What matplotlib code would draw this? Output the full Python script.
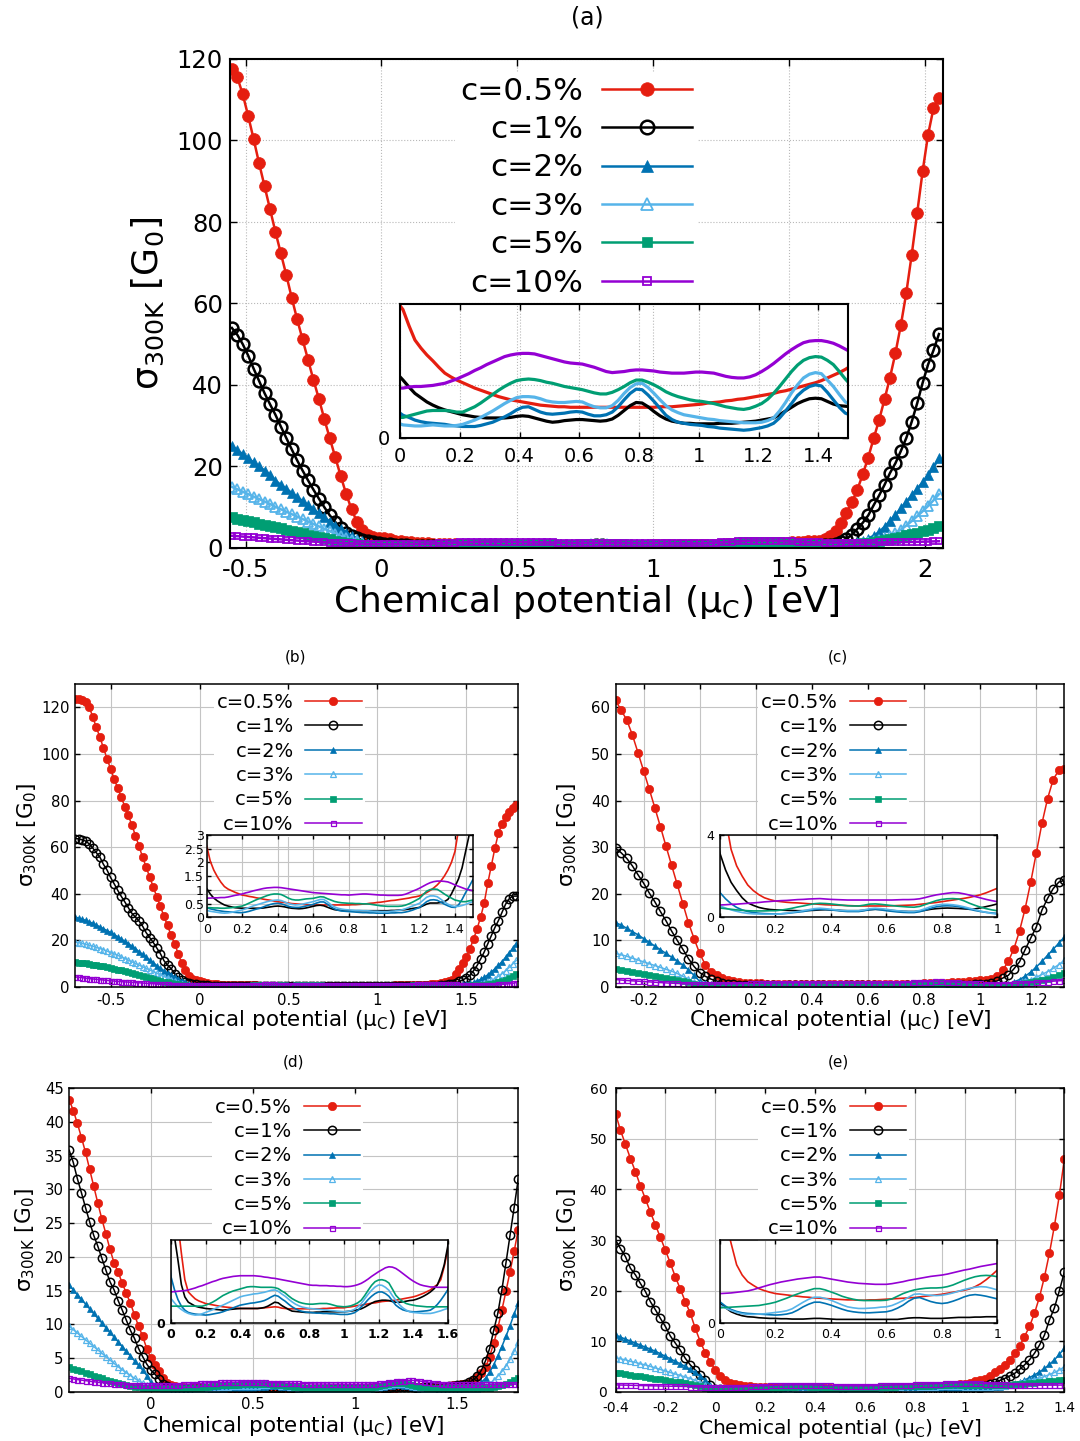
import numpy as np
import matplotlib
matplotlib.use("Agg")
import matplotlib.pyplot as plt
from matplotlib.ticker import FuncFormatter

plt.rcParams["font.family"] = ["DejaVu Sans"]
plt.rcParams["mathtext.fontset"] = "dejavusans"

labels = ["c=0.5%", "c=1%", "c=2%", "c=3%", "c=5%", "c=10%"]
colors = ["#e51e10", "#000000", "#0072b2", "#56b4e9", "#009e73", "#9400d3"]
markers = ["o", "o", "^", "^", "s", "s"]
hollow = [False, True, False, True, False, True]

# ---------------- panel (a) ----------------
a_mu = np.linspace(-0.55, 2.05, 131)
a_c05 = [117.5, 115.5, 111.3, 106, 100.3, 94.4, 88.8, 83.2, 77.6, 72.3, 67, 61.4, 56.1, 51.2, 46.2, 41.2, 36.6, 31.6,
         26.9, 22.3, 17.7, 13.3, 9.5, 6.4, 4.5, 3.2, 2.7, 2.55,
         2.4, 2.1, 1.83, 1.68, 1.55, 1.44, 1.32, 1.21, 1.14, 1.08, 1.03, 0.98, 0.93, 0.89, 0.85, 0.81, 0.77, 0.74,
         0.71, 0.69, 0.67, 0.65, 0.63, 0.61, 0.6, 0.59, 0.58, 0.58, 0.57, 0.57, 0.57, 0.57, 0.57, 0.57, 0.57, 0.57,
         0.57, 0.57, 0.57, 0.57, 0.57, 0.57, 0.57, 0.58, 0.58, 0.58, 0.59, 0.6, 0.61, 0.62, 0.63, 0.65, 0.66, 0.67,
         0.69, 0.7, 0.72, 0.73, 0.75, 0.77, 0.79, 0.81, 0.83, 0.86, 0.88, 0.91, 0.94, 0.97, 1.0, 1.03, 1.07, 1.12,
         1.17, 1.22, 1.28,
         1.35, 1.43, 1.52, 1.6, 1.7, 1.8, 2.2, 3.0, 4.2, 6.1, 8.6, 11.2, 14.3, 18.1, 22.2, 26.9, 31.4, 36.5, 41.8,
         47.8, 54.7, 62.6, 72, 82.2, 92.4, 101.4, 107.9, 110.4]
a_c1 = [54, 52.3, 50, 47.2, 44, 41, 38, 35.3, 32.7, 29.8, 27, 24.2, 21.5, 19, 16.6, 14.3, 12.1, 10, 8, 6.4, 4.8, 3.7,
        2.9, 2.4, 2.0, 1.65, 1.4, 1.2,
        1.08, 0.95, 0.83, 0.75, 0.67, 0.61, 0.56, 0.52, 0.49, 0.46, 0.43, 0.41, 0.39, 0.38, 0.37, 0.37, 0.37, 0.37,
        0.38, 0.4, 0.41, 0.4, 0.37, 0.34, 0.31, 0.29, 0.3, 0.32, 0.33, 0.34, 0.34, 0.33, 0.32, 0.31, 0.32, 0.35,
        0.42, 0.51, 0.6, 0.66, 0.65, 0.58, 0.49, 0.41, 0.35, 0.31, 0.29, 0.27, 0.27, 0.26, 0.26, 0.26, 0.26, 0.27,
        0.27, 0.27, 0.28, 0.29, 0.3, 0.31, 0.33, 0.35, 0.37, 0.43, 0.5, 0.57, 0.64, 0.69, 0.73, 0.74, 0.73, 0.68,
        0.63, 0.6, 0.59,
        0.58, 0.58, 0.57, 0.58, 0.6, 0.65, 0.72, 0.85, 1.1, 1.5, 2.2, 3.3, 4.7, 6.2, 8.0, 10.5, 12.9, 15.5, 18.4,
        20.8, 23.8, 27, 31, 35.5, 40.5, 45, 48.5, 52.5]
a_c2 = [25, 24, 23, 22, 21, 20, 19, 18, 16.5, 15.5, 14.5, 13.5, 12.5, 11.5, 10.5, 9.5, 8.5, 7.5, 6.5, 5.5, 4.6, 3.8,
        3.0, 2.3, 1.6, 1.05, 0.7, 0.5,
        0.42, 0.38, 0.33, 0.3, 0.28, 0.27, 0.26, 0.25, 0.23, 0.22, 0.21, 0.21, 0.21, 0.23, 0.26, 0.29, 0.34, 0.39,
        0.45, 0.52, 0.57, 0.58, 0.53, 0.48, 0.45, 0.44, 0.45, 0.46, 0.48, 0.49, 0.48, 0.44, 0.41, 0.41, 0.43, 0.48,
        0.58, 0.71, 0.83, 0.91, 0.9, 0.8, 0.68, 0.55, 0.42, 0.34, 0.29, 0.27, 0.25, 0.24, 0.23, 0.21, 0.2, 0.18,
        0.17, 0.16, 0.15, 0.14, 0.15, 0.17, 0.19, 0.22, 0.27, 0.37, 0.5, 0.64, 0.79, 0.89, 0.96, 0.99, 0.97, 0.85,
        0.71, 0.57, 0.46,
        0.42, 0.4, 0.4, 0.41, 0.43, 0.46, 0.5, 0.55, 0.62, 0.72, 0.85, 1.05, 1.35, 1.8, 2.3, 3.0, 3.9, 5.2, 6.6,
        8.1, 9.7, 11.3, 12.9, 14.5, 16.1, 17.8, 19.8, 22]
a_c3 = [15, 14.4, 13.8, 13.2, 12.6, 12, 11.4, 10.8, 10.1, 9.5, 8.9, 8.3, 7.7, 7.1, 6.5, 5.9, 5.3, 4.7, 4.1, 3.5, 3.0,
        2.5, 2.0, 1.6, 1.2, 0.8, 0.45, 0.28,
        0.24, 0.23, 0.22, 0.22, 0.23, 0.24, 0.23, 0.22, 0.22, 0.23, 0.25, 0.29, 0.33, 0.38, 0.44, 0.5, 0.57, 0.64,
        0.7, 0.75, 0.77, 0.77, 0.76, 0.73, 0.69, 0.67, 0.66, 0.66, 0.67, 0.68, 0.67, 0.62, 0.58, 0.56, 0.56, 0.6,
        0.7, 0.83, 0.94, 1.01, 1.02, 0.94, 0.83, 0.71, 0.6, 0.52, 0.47, 0.43, 0.41, 0.39, 0.37, 0.35, 0.34, 0.32,
        0.31, 0.3, 0.29, 0.28, 0.28, 0.28, 0.29, 0.32, 0.37, 0.5, 0.66, 0.84, 0.99, 1.12, 1.19, 1.22, 1.2, 1.08,
        0.96, 0.81, 0.67,
        0.62, 0.58, 0.56, 0.55, 0.55, 0.56, 0.58, 0.6, 0.63, 0.67, 0.73, 0.82, 0.95, 1.12, 1.35, 1.65, 2.0, 2.45,
        3.0, 3.7, 4.5, 5.5, 6.6, 7.8, 9.0, 10.3, 11.7, 13.2]
a_c5 = [7.5, 7.2, 6.9, 6.6, 6.3, 6.0, 5.7, 5.4, 5.1, 4.8, 4.5, 4.2, 3.9, 3.6, 3.3, 3.0, 2.7, 2.4, 2.1, 1.8, 1.55, 1.3,
        1.1, 0.9, 0.72, 0.55, 0.44, 0.38,
        0.38, 0.41, 0.44, 0.47, 0.5, 0.51, 0.51, 0.51, 0.5, 0.48, 0.48, 0.53, 0.58, 0.65, 0.73, 0.81, 0.89, 0.96,
        1.02, 1.07, 1.09, 1.1, 1.09, 1.07, 1.04, 1.02, 0.99, 0.96, 0.94, 0.92, 0.9, 0.87, 0.84, 0.82, 0.82, 0.85,
        0.9, 0.96, 1.03, 1.08, 1.08, 1.04, 0.99, 0.93, 0.86, 0.81, 0.77, 0.74, 0.71, 0.69, 0.68, 0.66, 0.64, 0.61,
        0.58, 0.56, 0.54, 0.53, 0.55, 0.59, 0.64, 0.72, 0.83, 0.96, 1.1, 1.24, 1.36, 1.45, 1.5, 1.52, 1.51, 1.45,
        1.37, 1.24, 1.1,
        0.98, 0.88, 0.82, 0.78, 0.76, 0.75, 0.75, 0.76, 0.78, 0.82, 0.88, 0.96, 1.06, 1.18, 1.33, 1.5, 1.7, 1.93,
        2.2, 2.5, 2.8, 3.1, 3.45, 3.8, 4.15, 4.5, 4.9, 5.3]
a_c10 = [3.0, 2.9, 2.8, 2.7, 2.6, 2.5, 2.4, 2.3, 2.2, 2.1, 2.0, 1.9, 1.8, 1.72, 1.64, 1.56, 1.48, 1.4, 1.34, 1.28,
         1.22, 1.16, 1.11, 1.06, 1.01, 0.97, 0.95, 0.93,
         0.93, 0.95, 0.96, 0.96, 0.97, 0.98, 1.0, 1.02, 1.06, 1.1, 1.15, 1.2, 1.26, 1.31, 1.37, 1.42, 1.47, 1.52,
         1.55, 1.57, 1.58, 1.58, 1.57, 1.54, 1.51, 1.48, 1.45, 1.42, 1.4, 1.39, 1.38, 1.35, 1.32, 1.28, 1.24, 1.22,
         1.23, 1.24, 1.26, 1.27, 1.27, 1.26, 1.25, 1.23, 1.22, 1.21, 1.21, 1.21, 1.22, 1.23, 1.23, 1.22, 1.21, 1.18,
         1.15, 1.13, 1.12, 1.12, 1.14, 1.18, 1.24, 1.31, 1.39, 1.48, 1.57, 1.65, 1.72, 1.78, 1.81, 1.82, 1.82, 1.8,
         1.77, 1.72, 1.66,
         1.6, 1.54, 1.48, 1.43, 1.39, 1.36, 1.33, 1.31, 1.3, 1.29, 1.29, 1.29, 1.3, 1.31, 1.32, 1.33, 1.35, 1.37,
         1.39, 1.41, 1.43, 1.45, 1.48, 1.51, 1.54, 1.58, 1.62, 1.66]

# ---------------- panel (b) ----------------
b_mu = np.linspace(-0.70, 1.78, 125)
b_c05 = [123.6, 123.6, 123.1, 122.1, 120.3, 115.7, 111.4, 107.1, 102.6, 97.9, 93.6, 89.3, 85.3, 81.4, 77.4, 73.6,
         69.3, 65, 60.3, 55.7, 51.4, 47.1, 42.9, 38.6, 34.6, 30.3, 26.4, 22.1, 18.6, 14.3, 10.3, 7.1, 4.6, 3.4, 2.9,
         2.6, 2.05, 1.72, 1.48, 1.28, 1.12, 1.03, 0.97, 0.91, 0.86, 0.81, 0.79, 0.76, 0.74, 0.71, 0.69, 0.66, 0.64,
         0.62, 0.59, 0.57, 0.55, 0.54, 0.52, 0.5, 0.49, 0.48, 0.47, 0.46, 0.45, 0.45, 0.45, 0.45, 0.45, 0.45, 0.45,
         0.45, 0.45, 0.45, 0.45, 0.45, 0.46, 0.46, 0.47, 0.48, 0.49, 0.51, 0.52, 0.54, 0.55, 0.57, 0.59, 0.61, 0.62,
         0.64, 0.66, 0.68, 0.7, 0.73, 0.75, 0.78, 0.84, 0.9, 0.98, 1.07, 1.18, 1.32, 1.5, 1.72, 2.0, 2.4, 3.2, 5.5,
         7.9, 10.3, 13.0,
         16.5, 20.5, 25, 30, 36, 44.5, 52, 59.5, 66, 70, 73, 75.2, 76.8, 78]
b_c1 = [63.6, 63.6, 63.2, 62.6, 61.4, 59.6, 57.6, 55.7, 52.6, 50.2, 47, 44.3, 41.5, 38.9, 36.5, 34, 31.6, 30, 28.3,
        26.1, 23.3, 21.2, 19.1, 16.7, 14.3, 11.3, 9.4, 7.9, 5.7, 4.2, 3.1, 2.2, 1.7, 1.4, 1.15,
        1.05, 0.85, 0.7, 0.6, 0.52, 0.45, 0.41, 0.38, 0.35, 0.34, 0.33, 0.33, 0.33, 0.33, 0.33, 0.33, 0.34, 0.36,
        0.38, 0.4, 0.41, 0.4, 0.38, 0.35, 0.33, 0.32, 0.31, 0.32, 0.34, 0.37, 0.4, 0.43, 0.44, 0.42, 0.37, 0.32,
        0.28, 0.26, 0.25, 0.24, 0.24, 0.24, 0.24, 0.24, 0.24, 0.24, 0.24, 0.24, 0.24, 0.24, 0.24, 0.24, 0.25, 0.25,
        0.26, 0.27, 0.28, 0.3, 0.32, 0.34, 0.36, 0.42, 0.48, 0.52, 0.52, 0.52, 0.54, 0.57, 0.65, 0.85, 1.12, 1.4,
        1.8, 2.4, 3.0, 3.9,
        5.0, 7.0, 9.2, 12, 15, 18.5, 22, 25.5, 28.5, 32, 35.5, 37.8, 39, 39]
b_c2 = [30, 29.6, 29.1, 28.6, 28, 27.3, 26.6, 25.8, 25, 24.2, 23.4, 22.5, 21.6, 20.6, 19.6, 18.6, 17.5, 16.4, 15.2,
        14.0, 12.8, 11.6, 10.4, 9.2, 8.0, 7.0, 6.1, 5.3, 4.4, 3.5, 2.7, 2.0, 1.4, 0.9, 0.6,
        0.35, 0.31, 0.28, 0.25, 0.23, 0.21, 0.2, 0.19, 0.18, 0.17, 0.17, 0.19, 0.22, 0.26, 0.3, 0.33, 0.38, 0.43,
        0.47, 0.5, 0.51, 0.49, 0.45, 0.4, 0.37, 0.36, 0.36, 0.38, 0.41, 0.44, 0.47, 0.52, 0.56, 0.56, 0.48, 0.38,
        0.31, 0.26, 0.23, 0.22, 0.21, 0.2, 0.19, 0.18, 0.17, 0.17, 0.16, 0.16, 0.15, 0.15, 0.15, 0.15, 0.16, 0.16,
        0.17, 0.17, 0.19, 0.22, 0.26, 0.31, 0.36, 0.46, 0.57, 0.63, 0.64, 0.62, 0.55, 0.48, 0.42, 0.37, 0.36, 0.45,
        0.65, 0.9, 1.12, 1.36,
        1.55, 2.0, 2.6, 3.3, 4.2, 5.2, 6.4, 7.8, 9.3, 10.9, 12.7, 14.6, 16.6, 18.6]
b_c3 = [19.3, 19.0, 18.7, 18.3, 17.9, 17.5, 17.0, 16.5, 16.0, 15.4, 14.8, 14.2, 13.6, 12.9, 12.2, 11.5, 10.8, 10.1,
        9.4, 8.7, 8.0, 7.3, 6.6, 5.9, 5.2, 4.5, 3.8, 3.1, 2.5, 1.9, 1.4, 1.0, 0.7, 0.45, 0.3,
        0.25, 0.22, 0.2, 0.18, 0.16, 0.15, 0.16, 0.18, 0.21, 0.24, 0.27, 0.31, 0.36, 0.41, 0.45, 0.49, 0.53, 0.57,
        0.6, 0.62, 0.63, 0.61, 0.56, 0.5, 0.47, 0.45, 0.46, 0.48, 0.51, 0.54, 0.57, 0.61, 0.65, 0.65, 0.57, 0.46,
        0.38, 0.33, 0.3, 0.28, 0.27, 0.26, 0.25, 0.25, 0.24, 0.24, 0.23, 0.22, 0.22, 0.21, 0.21, 0.21, 0.22, 0.23,
        0.25, 0.27, 0.31, 0.36, 0.41, 0.46, 0.51, 0.62, 0.73, 0.78, 0.78, 0.75, 0.66, 0.56, 0.48, 0.42, 0.39, 0.4,
        0.43, 0.47, 0.52, 0.57,
        0.62, 0.72, 0.9, 1.2, 1.6, 2.1, 2.8, 3.6, 4.6, 5.7, 7.0, 8.4, 9.9, 11.4]
b_c5 = [10.7, 10.5, 10.3, 10.1, 9.9, 9.6, 9.4, 9.1, 8.8, 8.5, 8.2, 7.9, 7.5, 7.1, 6.7, 6.3, 5.9, 5.5, 5.1, 4.7, 4.3,
        3.9, 3.5, 3.1, 2.7, 2.35, 2.0, 1.7, 1.4, 1.15, 0.9, 0.7, 0.55, 0.45, 0.38,
        0.35, 0.35, 0.34, 0.34, 0.33, 0.33, 0.34, 0.35, 0.37, 0.39, 0.41, 0.46, 0.52, 0.58, 0.64, 0.69, 0.74, 0.79,
        0.83, 0.85, 0.85, 0.83, 0.77, 0.7, 0.65, 0.63, 0.63, 0.65, 0.67, 0.68, 0.69, 0.72, 0.75, 0.74, 0.68, 0.63,
        0.58, 0.55, 0.53, 0.52, 0.51, 0.51, 0.5, 0.5, 0.49, 0.49, 0.48, 0.46, 0.44, 0.42, 0.41, 0.4, 0.4, 0.4, 0.4,
        0.41, 0.44, 0.49, 0.55, 0.62, 0.69, 0.82, 0.95, 1.01, 1.03, 1.02, 0.94, 0.85, 0.77, 0.7, 0.63, 0.6, 0.57,
        0.57, 0.6, 0.63,
        0.65, 0.68, 0.73, 0.82, 0.95, 1.12, 1.35, 1.65, 2.0, 2.5, 3.1, 3.8, 4.7, 5.7]
b_c10 = [4.3, 4.2, 4.0, 3.8, 3.6, 3.45, 3.3, 3.15, 3.0, 2.85, 2.7, 2.55, 2.4, 2.3, 2.2, 2.1, 2.0, 1.9, 1.8, 1.7, 1.6,
         1.5, 1.42, 1.34, 1.26, 1.18, 1.1, 1.02, 0.95, 0.88, 0.82, 0.77, 0.73, 0.71, 0.7,
         0.7, 0.7, 0.71, 0.71, 0.72, 0.72, 0.74, 0.77, 0.8, 0.82, 0.85, 0.89, 0.92, 0.96, 0.99, 1.02, 1.05, 1.07,
         1.08, 1.09, 1.09, 1.08, 1.06, 1.04, 1.02, 1.0, 0.98, 0.96, 0.94, 0.92, 0.9, 0.89, 0.88, 0.87, 0.86, 0.85,
         0.84, 0.83, 0.82, 0.82, 0.81, 0.82, 0.83, 0.84, 0.85, 0.85, 0.84, 0.83, 0.82, 0.81, 0.81, 0.8, 0.8, 0.8,
         0.8, 0.81, 0.84, 0.89, 0.95, 1.0, 1.06, 1.13, 1.2, 1.26, 1.3, 1.32, 1.32, 1.31, 1.29, 1.24, 1.18, 1.13,
         1.08, 1.03, 1.0, 0.97,
         0.95, 0.93, 0.92, 0.92, 0.93, 0.95, 0.98, 1.02, 1.08, 1.16, 1.26, 1.4, 1.6, 1.9]

# ---------------- panel (c) ----------------
c_mu = np.linspace(-0.30, 1.30, 81)
c_c05 = [61.5, 59.4, 57.3, 54.1, 50.3, 46.4, 42.5, 38.5, 34.4, 30.2, 26.1, 22.0, 17.9, 13.8, 10.4,
         7.2, 4.8, 3.3, 2.5, 2.0, 1.57, 1.3, 1.1, 0.95, 0.86, 0.79, 0.76, 0.73, 0.71, 0.7, 0.68, 0.66, 0.65, 0.63,
         0.61, 0.6, 0.59, 0.58, 0.57, 0.56, 0.55, 0.55, 0.55, 0.55, 0.55, 0.55, 0.56, 0.57, 0.58, 0.59, 0.6, 0.63,
         0.66, 0.69, 0.72, 0.76, 0.8, 0.84, 0.88, 0.92, 0.97, 1.03, 1.1, 1.19, 1.3, 1.41,
         1.5, 1.7, 2.3, 3.6, 5.5, 8.2, 12, 16.8, 22.5, 28.8, 35.1, 40.4, 44.5, 46.5, 46.7]
c_c1 = [29.8, 28.8, 27.6, 26, 24.1, 22.3, 20.2, 18.3, 16.2, 14.2, 12.0, 10.0, 8.1, 6.1, 4.4,
        3.1, 2.3, 1.7, 1.3, 0.95, 0.7, 0.58, 0.48, 0.42, 0.38, 0.36, 0.35, 0.34, 0.33, 0.32, 0.32, 0.33, 0.34, 0.36,
        0.37, 0.36, 0.35, 0.33, 0.32, 0.32, 0.32, 0.34, 0.37, 0.39, 0.38, 0.36, 0.33, 0.31, 0.29, 0.28, 0.28, 0.3,
        0.34, 0.39, 0.42, 0.44, 0.45, 0.44, 0.43, 0.41, 0.39, 0.41, 0.46, 0.52, 0.58, 0.65,
        0.75, 0.95, 1.3, 1.9, 2.5, 3.9, 5.4, 8.0, 10.5, 12.9, 16.5, 19, 21.1, 22.5, 22.9]
c_c2 = [13.8, 13.3, 12.6, 11.9, 11.2, 10.4, 9.6, 8.8, 8.0, 7.2, 6.4, 5.6, 4.7, 3.7, 2.5,
        1.2, 0.9, 0.66, 0.48, 0.36, 0.28, 0.23, 0.2, 0.18, 0.17, 0.16, 0.17, 0.19, 0.22, 0.25, 0.28, 0.33, 0.37,
        0.39, 0.38, 0.36, 0.33, 0.3, 0.28, 0.28, 0.28, 0.32, 0.37, 0.39, 0.36, 0.32, 0.29, 0.26, 0.24, 0.23, 0.23,
        0.27, 0.35, 0.44, 0.51, 0.55, 0.56, 0.55, 0.52, 0.46, 0.39, 0.33, 0.28, 0.24, 0.21, 0.19,
        0.2, 0.25, 0.35, 0.5, 0.75, 1.1, 1.6, 2.3, 3.2, 4.3, 5.5, 6.8, 8.1, 9.4, 10.7]
c_c3 = [7.2, 6.9, 6.6, 6.2, 5.8, 5.4, 5.0, 4.6, 4.2, 3.8, 3.4, 2.9, 2.3, 1.7, 1.1,
        0.55, 0.45, 0.36, 0.29, 0.23, 0.19, 0.17, 0.16, 0.15, 0.15, 0.15, 0.17, 0.2, 0.24, 0.28, 0.32, 0.37, 0.42,
        0.44, 0.42, 0.39, 0.36, 0.33, 0.32, 0.32, 0.32, 0.36, 0.42, 0.44, 0.42, 0.39, 0.35, 0.32, 0.3, 0.28, 0.28,
        0.33, 0.42, 0.52, 0.59, 0.63, 0.63, 0.61, 0.57, 0.51, 0.44, 0.37, 0.3, 0.24, 0.19, 0.15,
        0.16, 0.2, 0.26, 0.35, 0.48, 0.65, 0.9, 1.2, 1.6, 2.1, 2.7, 3.3, 4.0, 4.8, 5.7]
c_c5 = [3.8, 3.6, 3.4, 3.2, 3.0, 2.8, 2.6, 2.4, 2.2, 2.0, 1.8, 1.55, 1.3, 1.0, 0.7,
        0.45, 0.42, 0.39, 0.36, 0.34, 0.32, 0.31, 0.31, 0.31, 0.32, 0.32, 0.35, 0.39, 0.44, 0.5, 0.55, 0.61, 0.66,
        0.68, 0.67, 0.65, 0.62, 0.59, 0.56, 0.55, 0.55, 0.59, 0.64, 0.65, 0.63, 0.6, 0.57, 0.54, 0.52, 0.5, 0.49,
        0.53, 0.62, 0.72, 0.81, 0.87, 0.9, 0.91, 0.89, 0.8, 0.68, 0.58, 0.49, 0.42, 0.36, 0.32,
        0.3, 0.3, 0.32, 0.36, 0.42, 0.5, 0.62, 0.78, 0.98, 1.22, 1.5, 1.82, 2.2, 2.6, 3.0]
c_c10 = [1.6, 1.5, 1.4, 1.32, 1.25, 1.18, 1.1, 1.02, 0.95, 0.88, 0.82, 0.76, 0.71, 0.66, 0.62,
         0.6, 0.61, 0.63, 0.64, 0.66, 0.68, 0.7, 0.72, 0.75, 0.77, 0.79, 0.81, 0.82, 0.84, 0.86, 0.87, 0.89, 0.9,
         0.91, 0.89, 0.87, 0.86, 0.85, 0.84, 0.84, 0.84, 0.84, 0.84, 0.84, 0.84, 0.84, 0.84, 0.85, 0.86, 0.86, 0.87,
         0.9, 0.96, 1.03, 1.09, 1.13, 1.17, 1.2, 1.19, 1.14, 1.08, 1.01, 0.94, 0.87, 0.81, 0.76,
         0.74, 0.72, 0.72, 0.73, 0.75, 0.78, 0.82, 0.87, 0.93, 1.0, 1.08, 1.17, 1.25, 1.33, 1.4]

# ---------------- panel (d) ----------------
d_mu = np.linspace(-0.40, 1.80, 111)
d_c05 = [43.3, 41.7, 39.8, 37.7, 35.5, 33, 30.5, 28, 25.6, 23.4, 21.1, 19.1, 17.7, 16.1, 14.6, 13.1, 11.4, 9.7, 8.2,
         6.4,
         5.0, 3.9, 3.0, 2.1, 1.3, 0.93, 0.82, 0.72, 0.66, 0.62, 0.58, 0.56, 0.54, 0.52, 0.5, 0.48, 0.47, 0.46, 0.45,
         0.44, 0.43, 0.43, 0.43, 0.43, 0.43, 0.43, 0.44, 0.45, 0.46, 0.47, 0.48, 0.47, 0.44, 0.43, 0.42, 0.42, 0.42,
         0.42, 0.42, 0.42, 0.42, 0.42, 0.42, 0.42, 0.43, 0.43, 0.44, 0.44, 0.45, 0.45, 0.45, 0.47, 0.48, 0.5, 0.52,
         0.53, 0.55, 0.57, 0.59, 0.6, 0.62, 0.64, 0.65, 0.66, 0.67, 0.68, 0.7, 0.72, 0.74, 0.76, 0.78, 0.81, 0.85,
         0.89, 0.94, 0.99, 1.08, 1.15, 1.3, 1.7, 2.2,
         2.8, 3.6, 5.2, 7.2, 9.4, 12.1, 14.9, 17.8, 20.8, 24.0]
d_c1 = [35.8, 34, 31.6, 29.5, 27.3, 25.2, 23.2, 21.6, 19.8, 18, 16.3, 15.1, 13.5, 12.1, 10.6, 9.1, 7.9, 6.4, 5.2, 4.1,
        3.2, 2.6, 1.9, 1.15, 0.78, 0.62, 0.56, 0.5, 0.47, 0.45, 0.43, 0.42, 0.41, 0.4, 0.39, 0.38, 0.39, 0.4, 0.41,
        0.42, 0.43, 0.43, 0.43, 0.43, 0.43, 0.43, 0.44, 0.46, 0.5, 0.56, 0.62, 0.6, 0.52, 0.46, 0.4, 0.35, 0.34,
        0.33, 0.32, 0.31, 0.31, 0.31, 0.32, 0.32, 0.33, 0.33, 0.33, 0.33, 0.33, 0.33, 0.33, 0.34, 0.35, 0.37, 0.39,
        0.42, 0.47, 0.53, 0.59, 0.64, 0.66, 0.68, 0.68, 0.67, 0.64, 0.62, 0.62, 0.63, 0.65, 0.67, 0.68, 0.71, 0.75,
        0.8, 0.86, 0.93, 1.02, 1.14, 1.4, 1.75, 2.3,
        3.2, 4.6, 6.4, 9.1, 11.6, 15.1, 19.1, 23.2, 27.3, 31.5]
d_c2 = [15.8, 15.1, 14.4, 13.7, 13.0, 12.3, 11.6, 10.9, 10.2, 9.5, 8.8, 8.1, 7.4, 6.7, 6.0, 5.3, 4.6, 3.9, 3.2, 2.4,
        1.39, 1.0, 0.7, 0.5, 0.38, 0.31, 0.28, 0.26, 0.25, 0.24, 0.23, 0.24, 0.26, 0.28, 0.3, 0.33, 0.37, 0.41, 0.45,
        0.49, 0.53, 0.55, 0.57, 0.59, 0.6, 0.62, 0.64, 0.67, 0.72, 0.78, 0.83, 0.8, 0.72, 0.65, 0.56, 0.48, 0.42,
        0.37, 0.34, 0.32, 0.31, 0.3, 0.29, 0.29, 0.28, 0.28, 0.27, 0.27, 0.26, 0.25, 0.25, 0.25, 0.27, 0.3, 0.37,
        0.48, 0.58, 0.7, 0.8, 0.88, 0.93, 0.93, 0.88, 0.8, 0.66, 0.53, 0.45, 0.39, 0.36, 0.34, 0.33, 0.33, 0.34,
        0.35, 0.36, 0.38, 0.45, 0.55, 0.68, 0.83, 0.99,
        1.4, 2.0, 2.9, 4.0, 5.3, 6.7, 8.2, 9.8, 11.5, 13.2]
d_c3 = [9.7, 9.2, 8.7, 8.2, 7.7, 7.2, 6.7, 6.2, 5.7, 5.2, 4.7, 4.2, 3.7, 3.25, 2.8, 2.4, 2.0, 1.6, 1.25, 0.95,
        0.73, 0.6, 0.48, 0.4, 0.33, 0.28, 0.25, 0.23, 0.24, 0.27, 0.31, 0.35, 0.39, 0.44, 0.49, 0.53, 0.58, 0.63,
        0.68, 0.73, 0.78, 0.81, 0.83, 0.85, 0.87, 0.88, 0.9, 0.92, 0.95, 0.98, 0.99, 0.95, 0.87, 0.8, 0.71, 0.63,
        0.56, 0.51, 0.47, 0.45, 0.43, 0.42, 0.41, 0.4, 0.39, 0.38, 0.37, 0.36, 0.35, 0.34, 0.33, 0.34, 0.36, 0.4,
        0.48, 0.58, 0.72, 0.86, 0.98, 1.08, 1.14, 1.13, 1.07, 0.98, 0.82, 0.68, 0.55, 0.45, 0.38, 0.33, 0.31, 0.3,
        0.29, 0.28, 0.28, 0.28, 0.3, 0.33, 0.36, 0.4, 0.43,
        0.62, 0.85, 1.2, 1.7, 2.3, 3.0, 3.8, 4.8, 6.0, 7.4]
d_c5 = [3.6, 3.4, 3.2, 3.0, 2.8, 2.6, 2.4, 2.2, 2.0, 1.8, 1.6, 1.45, 1.3, 1.15, 1.0, 0.88, 0.76, 0.66, 0.58, 0.52,
        0.5, 0.5, 0.5, 0.5, 0.5, 0.5, 0.5, 0.5, 0.5, 0.5, 0.53, 0.57, 0.62, 0.68, 0.75, 0.82, 0.87, 0.92, 0.96, 0.99,
        1.02, 1.05, 1.08, 1.09, 1.09, 1.08, 1.07, 1.07, 1.07, 1.07, 1.06, 1.03, 0.96, 0.9, 0.81, 0.73, 0.67, 0.62,
        0.59, 0.57, 0.56, 0.56, 0.57, 0.58, 0.58, 0.58, 0.56, 0.53, 0.5, 0.49, 0.48, 0.49, 0.51, 0.55, 0.6, 0.68,
        0.82, 0.98, 1.13, 1.24, 1.29, 1.3, 1.27, 1.2, 1.02, 0.83, 0.72, 0.64, 0.58, 0.55, 0.53, 0.51, 0.5, 0.49,
        0.48, 0.48, 0.48, 0.48, 0.48, 0.48, 0.48,
        0.5, 0.54, 0.6, 0.7, 0.84, 1.0, 1.2, 1.42, 1.7, 2.0]
d_c10 = [2.0, 1.9, 1.8, 1.72, 1.64, 1.56, 1.48, 1.4, 1.34, 1.28, 1.22, 1.17, 1.12, 1.08, 1.04, 1.0, 0.97, 0.95, 0.94,
         0.93,
         0.93, 0.94, 0.95, 0.96, 0.97, 0.99, 1.02, 1.05, 1.09, 1.12, 1.16, 1.2, 1.24, 1.27, 1.31, 1.34, 1.36, 1.38,
         1.4, 1.41, 1.42, 1.42, 1.42, 1.42, 1.42, 1.41, 1.4, 1.38, 1.37, 1.35, 1.34, 1.32, 1.3, 1.28, 1.26, 1.24,
         1.22, 1.2, 1.18, 1.16, 1.14, 1.13, 1.13, 1.12, 1.12, 1.12, 1.11, 1.11, 1.1, 1.1, 1.09, 1.09, 1.1, 1.12,
         1.15, 1.19, 1.25, 1.32, 1.4, 1.47, 1.54, 1.6, 1.66, 1.69, 1.68, 1.64, 1.57, 1.49, 1.41, 1.33, 1.26, 1.2,
         1.15, 1.12, 1.1, 1.08, 1.08, 1.07, 1.07, 1.07, 1.07,
         1.07, 1.07, 1.08, 1.08, 1.09, 1.1, 1.1, 1.11, 1.11, 1.12]

# ---------------- panel (e) ----------------
e_mu = np.linspace(-0.40, 1.40, 91)
e_c05 = [55, 51.7, 48.9, 46.1, 43.5, 40.7, 38.1, 35.5, 33, 30.5, 28, 25.4, 22.7, 20.3, 17.8, 15.5, 12.5, 9.9, 7.7,
         5.9,
         4.3, 3.1, 2.4, 1.75, 1.44, 1.24, 1.13, 1.03, 0.97, 0.92, 0.88, 0.86, 0.84, 0.82, 0.8, 0.78, 0.77, 0.75,
         0.74, 0.73, 0.72, 0.71, 0.7, 0.69, 0.69, 0.68, 0.68, 0.69, 0.69, 0.7, 0.71, 0.72, 0.73, 0.74, 0.75, 0.76,
         0.78, 0.8, 0.82, 0.84, 0.86, 0.89, 0.92, 0.95, 0.98, 1.02, 1.09, 1.18, 1.3, 1.44, 1.59,
         1.8, 2.05, 2.3, 2.6, 3.1, 3.8, 4.4, 5.3, 6.3, 7.6, 9.0, 10.9, 12.9, 15.5, 18.7, 22.7, 27.4, 32.8, 38.9, 46.1]
e_c1 = [30, 28.3, 26.7, 24.4, 23.1, 21.4, 19.8, 17.8, 16.2, 14.5, 12.9, 11, 9.6, 8.2, 6.6, 5.3, 4.3, 3.3, 2.3, 1.3,
        0.6, 0.45, 0.33, 0.26, 0.21, 0.18, 0.17, 0.15, 0.14, 0.13, 0.13, 0.12, 0.12, 0.11, 0.11, 0.11, 0.12, 0.13,
        0.13, 0.12, 0.11, 0.1, 0.1, 0.1, 0.1, 0.1, 0.1, 0.1, 0.1, 0.1, 0.1, 0.1, 0.1, 0.12, 0.14, 0.15, 0.15, 0.14,
        0.13, 0.13, 0.13, 0.14, 0.15, 0.16, 0.16, 0.16, 0.17, 0.17, 0.18, 0.18, 0.18,
        0.3, 0.5, 0.8, 1.1, 1.5, 1.8, 2.2, 2.6, 3.1, 3.6, 4.4, 5.3, 6.3, 7.6, 9.2, 11.2, 14.2, 16.6, 20, 23.7]
e_c2 = [11.2, 10.8, 10.4, 10.0, 9.6, 9.2, 8.8, 8.4, 8.0, 7.5, 7.0, 6.5, 6.0, 5.5, 5.0, 4.4, 3.8, 3.1, 2.3, 1.4,
        0.63, 0.5, 0.4, 0.34, 0.3, 0.28, 0.27, 0.26, 0.25, 0.24, 0.23, 0.24, 0.26, 0.3, 0.38, 0.48, 0.56, 0.62, 0.62,
        0.58, 0.53, 0.47, 0.41, 0.36, 0.33, 0.31, 0.3, 0.3, 0.31, 0.32, 0.33, 0.37, 0.44, 0.53, 0.65, 0.74, 0.76,
        0.7, 0.64, 0.6, 0.58, 0.6, 0.65, 0.71, 0.78, 0.83, 0.85, 0.83, 0.8, 0.76, 0.72,
        0.7, 0.7, 0.72, 0.76, 0.82, 0.9, 1.0, 1.15, 1.35, 1.6, 1.9, 2.3, 2.8, 3.3, 3.9, 4.6, 5.4, 6.3, 7.4, 8.6]
e_c3 = [6.7, 6.5, 6.3, 6.0, 5.8, 5.5, 5.3, 5.0, 4.7, 4.4, 4.1, 3.8, 3.5, 3.2, 2.9, 2.6, 2.2, 1.8, 1.3, 0.85,
        0.53, 0.44, 0.37, 0.31, 0.27, 0.25, 0.25, 0.26, 0.27, 0.29, 0.31, 0.33, 0.36, 0.42, 0.52, 0.62, 0.71, 0.77,
        0.77, 0.73, 0.68, 0.61, 0.54, 0.48, 0.45, 0.43, 0.43, 0.44, 0.45, 0.47, 0.48, 0.52, 0.59, 0.67, 0.77, 0.86,
        0.87, 0.84, 0.83, 0.82, 0.83, 0.86, 0.9, 0.95, 1.0, 1.04, 1.07, 1.09, 1.08, 1.04, 0.99,
        0.97, 0.96, 0.96, 0.97, 1.0, 1.05, 1.12, 1.22, 1.35, 1.5, 1.7, 1.9, 2.15, 2.4, 2.7, 3.0, 3.4, 3.8, 4.3, 4.9]
e_c5 = [3.7, 3.6, 3.5, 3.35, 3.2, 3.05, 2.9, 2.75, 2.6, 2.45, 2.3, 2.15, 2.0, 1.85, 1.7, 1.5, 1.3, 1.05, 0.8, 0.55,
        0.45, 0.46, 0.47, 0.48, 0.49, 0.5, 0.51, 0.52, 0.55, 0.58, 0.62, 0.68, 0.74, 0.81, 0.87, 0.93, 0.98, 1.03,
        1.03, 0.99, 0.93, 0.87, 0.8, 0.75, 0.71, 0.68, 0.67, 0.67, 0.67, 0.67, 0.68, 0.72, 0.8, 0.88, 0.94, 0.99,
        1.02, 1.04, 1.05, 1.05, 1.06, 1.09, 1.14, 1.21, 1.28, 1.34, 1.39, 1.42, 1.43, 1.42, 1.39,
        1.36, 1.33, 1.31, 1.3, 1.3, 1.31, 1.33, 1.36, 1.4, 1.45, 1.52, 1.6, 1.7, 1.8, 1.9, 2.0, 2.1, 2.2, 2.3, 2.4]
e_c10 = [1.35, 1.32, 1.3, 1.27, 1.25, 1.22, 1.2, 1.17, 1.15, 1.13, 1.11, 1.09, 1.07, 1.05, 1.03, 1.0, 0.97, 0.94,
         0.91, 0.89,
         0.88, 0.89, 0.9, 0.92, 0.94, 0.96, 1.0, 1.05, 1.1, 1.15, 1.19, 1.23, 1.26, 1.29, 1.32, 1.34, 1.36, 1.38,
         1.38, 1.35, 1.32, 1.29, 1.26, 1.23, 1.21, 1.19, 1.18, 1.17, 1.16, 1.16, 1.16, 1.18, 1.21, 1.24, 1.28, 1.31,
         1.34, 1.37, 1.4, 1.42, 1.44, 1.47, 1.51, 1.55, 1.59, 1.62, 1.66, 1.7, 1.73, 1.76, 1.79,
         1.76, 1.72, 1.67, 1.62, 1.57, 1.52, 1.48, 1.44, 1.41, 1.38, 1.36, 1.34, 1.32, 1.31, 1.3, 1.3, 1.3, 1.3,
         1.31, 1.32]

# ---------------- axis ticks ----------------
a_xticks = [-0.5, 0, 0.5, 1, 1.5, 2]
a_yticks = [0, 20, 40, 60, 80, 100, 120]
a_inset_xticks = [0, 0.2, 0.4, 0.6, 0.8, 1, 1.2, 1.4]
b_xticks = [-0.5, 0, 0.5, 1, 1.5]
b_yticks = [0, 20, 40, 60, 80, 100, 120]
b_inset_xticks = [0, 0.2, 0.4, 0.6, 0.8, 1, 1.2, 1.4]
b_inset_yticks = [0, 0.5, 1, 1.5, 2, 2.5, 3]
c_xticks = [-0.2, 0, 0.2, 0.4, 0.6, 0.8, 1, 1.2]
c_yticks = [0, 10, 20, 30, 40, 50, 60]
c_inset_xticks = [0, 0.2, 0.4, 0.6, 0.8, 1]
c_inset_yticks = [0, 4]
d_xticks = [0, 0.5, 1, 1.5]
d_yticks = [0, 5, 10, 15, 20, 25, 30, 35, 40, 45]
d_inset_xticks = [0, 0.2, 0.4, 0.6, 0.8, 1, 1.2, 1.4, 1.6]
e_xticks = [-0.4, -0.2, 0, 0.2, 0.4, 0.6, 0.8, 1, 1.2, 1.4]
e_yticks = [0, 10, 20, 30, 40, 50, 60]
e_inset_xticks = [0, 0.2, 0.4, 0.6, 0.8, 1]

W, H = 1080, 1441
fig = plt.figure(figsize=(W / 100, H / 100), dpi=100)
fmt = FuncFormatter(lambda v, p: "%g" % (round(v, 6) + 0.0))


def rect(l, t, r, b):
    return [l / W, 1 - b / H, (r - l) / W, (b - t) / H]


big = dict(ms=[8.5, 8.5, 7.5, 7.5, 6.5, 5.0], mew=[1, 1.8, 1, 1.3, 1, 1.3], lw=1.8, ilw=2.3, spine=1.5,
           tick=17.5, lab=26, leg=22.5, itick=14, ticklen=5, grid=":", gridc="#b8b8b8",
           lspace=0.30, mscale=1.15)
small = dict(ms=[6.0, 6.0, 5.0, 5.0, 4.6, 3.6], mew=[1, 1.1, 1, 0.9, 1, 0.9], lw=1.1, ilw=1.2, spine=1.1,
             tick=10.7, lab=15.5, leg=14, itick=9, ticklen=3.5, grid="-", gridc="#c4c4c4",
             lspace=0.275, mscale=1.0)

panels = [
    dict(mu=a_mu, ys=[a_c05, a_c1, a_c2, a_c3, a_c5, a_c10], st=big,
         main=(230, 59, 943, 548), inset=(400, 304.3, 848.3, 437.7),
         xlim=(-0.557, 2.065), ylim=(0, 120), xt=a_xticks, yt=a_yticks,
         ixlim=(0, 1.5), iylim=(0, 2.5), ixt=a_inset_xticks, iyt=[0], ibold=False,
         leg=(697, 72), title=("(a)", 587, 18, 17), ylab_x=148, xlab_y=602,
         xpad=7, ypad=5, ixpad=7, iypad=7),
    dict(mu=b_mu, ys=[b_c05, b_c1, b_c2, b_c3, b_c5, b_c10], st=small,
         main=(75, 684, 518, 987), inset=(206.7, 835, 472.7, 917.3),
         xlim=(-0.70, 1.79), ylim=(0, 130), xt=b_xticks, yt=b_yticks,
         ixlim=(0, 1.5), iylim=(0, 3), ixt=b_inset_xticks, iyt=b_inset_yticks, ibold=False,
         leg=(364.6, 690), title=("(b)", 295, 657, 11), ylab_x=27, xlab_y=1020,
         xpad=4, ypad=4, ixpad=4, iypad=2),
    dict(mu=c_mu, ys=[c_c05, c_c1, c_c2, c_c3, c_c5, c_c10], st=small,
         main=(615.5, 684, 1064.4, 987), inset=(720, 835, 997.3, 917.3),
         xlim=(-0.30, 1.30), ylim=(0, 65), xt=c_xticks, yt=c_yticks,
         ixlim=(0, 1.0), iylim=(0, 4), ixt=c_inset_xticks, iyt=c_inset_yticks, ibold=False,
         leg=(909, 690), title=("(c)", 838, 657, 11), ylab_x=567, xlab_y=1020,
         xpad=4, ypad=4, ixpad=4, iypad=4),
    dict(mu=d_mu, ys=[d_c05, d_c1, d_c2, d_c3, d_c5, d_c10], st=small,
         main=(69.2, 1088.3, 518.2, 1391.7), inset=(171, 1240, 447.7, 1322.7),
         xlim=(-0.40, 1.80), ylim=(0, 45), xt=d_xticks, yt=d_yticks,
         ixlim=(0, 1.6), iylim=(0, 2.5), ixt=d_inset_xticks, iyt=[0], ibold=True,
         leg=(363, 1094.7), title=("(d)", 293, 1062, 11), ylab_x=25, xlab_y=1426,
         xpad=3.5, ypad=4, ixpad=3.5, iypad=4),
    dict(mu=e_mu, ys=[e_c05, e_c1, e_c2, e_c3, e_c5, e_c10], st=small,
         main=(615.5, 1088.3, 1064.4, 1391.7), inset=(720, 1240, 997.3, 1322.7),
         xlim=(-0.40, 1.40), ylim=(0, 60), xt=e_xticks, yt=e_yticks,
         ixlim=(0, 1.0), iylim=(0, 2.5), ixt=e_inset_xticks, iyt=[0], ibold=False,
         leg=(909, 1094.7), title=("(e)", 838, 1062, 11), ylab_x=567, xlab_y=1429,
         xpad=6.5, ypad=6, ixpad=4, iypad=3.5, tick=10.0, lab=14.5),
]

for p in panels:
    st = p["st"]
    for y in p["ys"]:
        if len(y) != len(p["mu"]):
            raise ValueError("length mismatch %d vs %d" % (len(y), len(p["mu"])))

    ax = fig.add_axes(rect(*p["main"]))
    for i, y in enumerate(p["ys"]):
        kw = dict(color=colors[i], lw=st["lw"], marker=markers[i], ms=st["ms"][i], label=labels[i])
        if hollow[i]:
            kw.update(mfc="none", mec=colors[i], mew=st["mew"][i])
        else:
            kw.update(mfc=colors[i], mec=colors[i], mew=0.5)
        ax.plot(p["mu"], y, **kw)
    ax.set_xlim(*p["xlim"])
    ax.set_ylim(*p["ylim"])
    ax.set_xticks(p["xt"])
    ax.set_yticks(p["yt"])
    ax.xaxis.set_major_formatter(fmt)
    ax.yaxis.set_major_formatter(fmt)
    ax.tick_params(direction="in", top=True, right=True, length=st["ticklen"], width=1,
                   labelsize=p.get("tick", st["tick"]))
    ax.tick_params(axis="x", pad=p["xpad"])
    ax.tick_params(axis="y", pad=p["ypad"])
    ax.grid(True, ls=st["grid"], color=st["gridc"], lw=0.8)
    ax.set_axisbelow(True)
    for s in ax.spines.values():
        s.set_linewidth(st["spine"])

    lab_fs = p.get("lab", st["lab"])
    ax.set_xlabel("Chemical potential (μ$_{\\mathregular{C}}$) [eV]", fontsize=lab_fs)
    ax.set_ylabel("σ$_{\\mathregular{300K}}$ [G$_{\\mathregular{0}}$]", fontsize=st["lab"])
    l, t, r, b = p["main"]
    ax.xaxis.label.set_va("center")
    ax.yaxis.label.set_va("center")
    ax.xaxis.set_label_coords(0.5, (b - p["xlab_y"]) / (b - t))
    ax.yaxis.set_label_coords((p["ylab_x"] - l) / (r - l), 0.5)

    lx, ly = p["leg"]
    leg = ax.legend(loc="upper right", bbox_to_anchor=(lx / W, 1 - ly / H), bbox_transform=fig.transFigure,
                    markerfirst=False, fontsize=st["leg"], handlelength=2.9, handletextpad=0.6,
                    labelspacing=st["lspace"], borderpad=0.15, borderaxespad=0, frameon=True, fancybox=False,
                    framealpha=1, numpoints=1, markerscale=st["mscale"])
    leg.get_frame().set_facecolor("white")
    leg.get_frame().set_edgecolor("none")

    txt, x0, y0, fs = p["title"]
    fig.text(x0 / W, 1 - y0 / H, txt, ha="center", va="center", fontsize=fs)

    # zoomed view of the low-conductance window
    ins = fig.add_axes(rect(*p["inset"]))
    ins.patch.set_alpha(0)
    for i, y in enumerate(p["ys"]):
        ins.plot(p["mu"], y, color=colors[i], lw=st["ilw"])
    ins.set_xlim(*p["ixlim"])
    ins.set_ylim(*p["iylim"])
    ins.set_xticks(p["ixt"])
    ins.set_yticks(p["iyt"])
    ins.xaxis.set_major_formatter(fmt)
    ins.yaxis.set_major_formatter(fmt)
    ins.tick_params(direction="in", top=True, right=True, length=st["ticklen"] * 0.8, width=1,
                    labelsize=st["itick"])
    ins.tick_params(axis="x", pad=p["ixpad"])
    ins.tick_params(axis="y", pad=p["iypad"])
    if p["ibold"]:
        for tl in ins.get_xticklabels() + ins.get_yticklabels():
            tl.set_fontweight("bold")
    ins.grid(True, ls=st["grid"], color=st["gridc"], lw=0.8)
    ins.set_axisbelow(True)
    for s in ins.spines.values():
        s.set_linewidth(st["spine"])

fig.savefig("out.png", dpi=100)
